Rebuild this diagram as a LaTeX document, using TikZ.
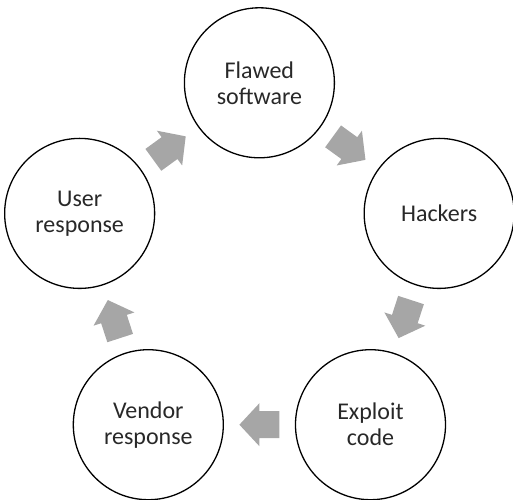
\documentclass[tikz,border=0pt]{standalone}
\usepackage{fontspec}
\setmainfont{Carlito}
\usetikzlibrary{calc}
\definecolor{arrowgray}{RGB}{166,166,166}
\definecolor{textdark}{RGB}{40,40,40}
\tikzset{
  stage/.style={circle, draw=black, line width=1.3pt, minimum size=150pt, inner sep=0pt,
    align=center, text=textdark, font=\fontsize{24}{26}\selectfont},
  blockarrow/.style={fill=arrowgray, draw=none}
}
\begin{document}
\begin{tikzpicture}[x=1pt,y=1pt]
\useasboundingbox (0,0) rectangle (513,499);
\coordinate (C) at (259.4,227.2);
\node[stage] (F) at ($(C)+(90:189)$) {Flawed\\software};
\node[stage] (H) at ($(C)+(18:189)$) {Hackers};
\node[stage] (E) at ($(C)+(-54:189)$) {Exploit\\code};
\node[stage] (V) at ($(C)+(-126:189)$) {Vendor\\response};
\node[stage] (U) at ($(C)+(162:189)$) {User\\response};
\foreach \a/\b/\r in {F/H/-36, H/E/-108, E/V/180, V/U/108, U/F/36}{
  \begin{scope}[shift={($(\a.center)!0.5!(\b.center)$)}, rotate=\r]
    \fill[blockarrow] (-20,13.5) -- (0,13.5) -- (0,21.5) -- (20,0) -- (0,-21.5) -- (0,-13.5) -- (-20,-13.5) -- cycle;
  \end{scope}
}
\end{tikzpicture}
\end{document}
